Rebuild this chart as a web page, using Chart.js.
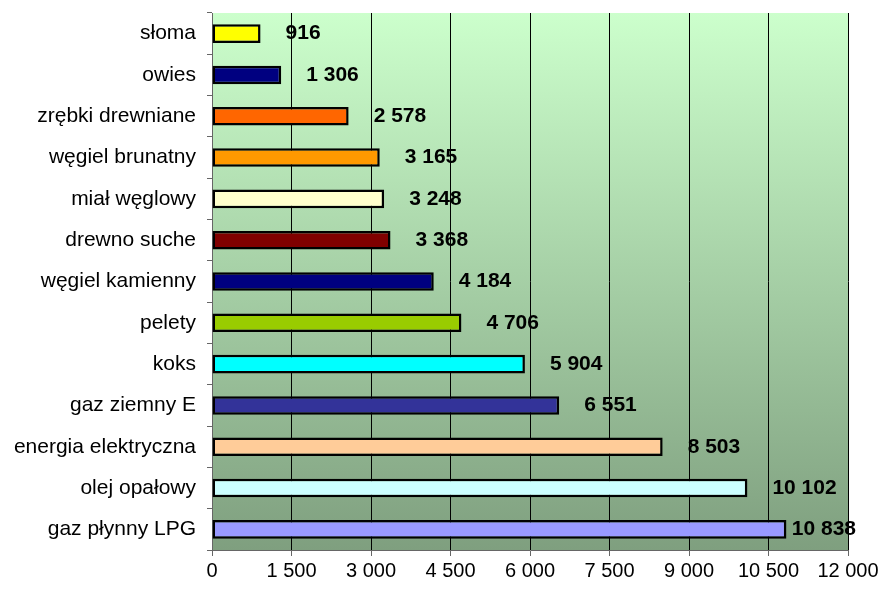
<!DOCTYPE html>
<html lang="pl">
  <head>
    <meta charset="UTF-8" />
    <title>Koszt ogrzewania</title>
    <script src="https://cdn.jsdelivr.net/npm/chart.js@4"></script>
    <style>
      html, body { margin: 0; padding: 0; background: #fff; }
      .chart-container { width: 881px; height: 591px; }
    </style>
  </head>
  <body>
    <div class="chart-container"><canvas id="chart"></canvas></div>
    <script>
      const categories = [
        "słoma", "owies", "zrębki drewniane", "węgiel brunatny", "miał węglowy",
        "drewno suche", "węgiel kamienny", "pelety", "koks", "gaz ziemny E",
        "energia elektryczna", "olej opałowy", "gaz płynny LPG"
      ];
      const values = [916, 1306, 2578, 3165, 3248, 3368, 4184, 4706, 5904, 6551, 8503, 10102, 10838];
      const barColors = [
        "#FFFF00", "#000080", "#FF6600", "#FF9900", "#FFFFCC",
        "#800000", "#000080", "#99CC00", "#00FFFF", "#333399",
        "#FFCC99", "#CCFFFF", "#9999FF"
      ];

      const FONT = "'Liberation Sans', Arial, sans-serif";

      // 10838 -> "10 838"
      function fmt(v) {
        return String(v).replace(/\B(?=(\d{3})+(?!\d))/g, " ");
      }

      // gradient behind the plot area
      const plotBackground = {
        id: "plotBackground",
        beforeDraw(chart) {
          const { ctx, chartArea: a } = chart;
          const g = ctx.createLinearGradient(0, a.top, 0, a.bottom);
          g.addColorStop(0, "#CCFFCC");
          g.addColorStop(1, "#7F9F7F");
          ctx.save();
          ctx.fillStyle = g;
          ctx.fillRect(a.left, a.top, a.right - a.left, a.bottom - a.top);
          ctx.restore();
        }
      };

      // bold value labels to the right of each bar, kept inside the canvas
      const valueLabels = {
        id: "valueLabels",
        afterDatasetsDraw(chart) {
          const { ctx, chartArea } = chart;
          const meta = chart.getDatasetMeta(0);
          ctx.save();
          ctx.font = "bold 21px " + FONT;
          ctx.fillStyle = "#000";
          ctx.textBaseline = "middle";
          ctx.textAlign = "left";
          meta.data.forEach((bar, i) => {
            const text = fmt(values[i]);
            const w = ctx.measureText(text).width;
            const x = Math.min(bar.x + 25, chartArea.right + 8 - w);
            ctx.fillText(text, x, bar.y);
          });
          ctx.restore();
        }
      };

      new Chart(document.getElementById("chart"), {
        type: "bar",
        data: {
          labels: categories,
          datasets: [{
            data: values,
            backgroundColor: barColors,
            borderColor: "#000",
            borderWidth: 2.5,
            borderSkipped: false,
            barPercentage: 0.45,
            categoryPercentage: 1
          }]
        },
        options: {
          indexAxis: "y",
          responsive: true,
          maintainAspectRatio: false,
          animation: false,
          layout: { padding: { top: 13, right: 33, left: 0, bottom: 0 } },
          plugins: {
            legend: { display: false },
            tooltip: { enabled: false }
          },
          scales: {
            x: {
              min: 0,
              max: 12000,
              ticks: {
                stepSize: 1500,
                color: "#000",
                font: { family: FONT, size: 20 },
                padding: 3,
                maxRotation: 0,
                callback: v => fmt(v)
              },
              grid: { color: "#000", lineWidth: 1, tickLength: 6, tickColor: "#666" },
              border: { color: "#666", width: 1 },
              afterFit: s => { s.height = 41; s.paddingLeft = 0; s.paddingRight = 0; }
            },
            y: {
              ticks: {
                color: "#000",
                font: { family: FONT, size: 21 },
                padding: 11
              },
              grid: { offset: true, drawOnChartArea: false, tickLength: 5, tickColor: "#666" },
              border: { color: "#666", width: 1 },
              afterFit: s => { s.width = 212; s.paddingTop = 0; s.paddingBottom = 0; }
            }
          }
        },
        plugins: [plotBackground, valueLabels]
      });
    </script>
  </body>
</html>
